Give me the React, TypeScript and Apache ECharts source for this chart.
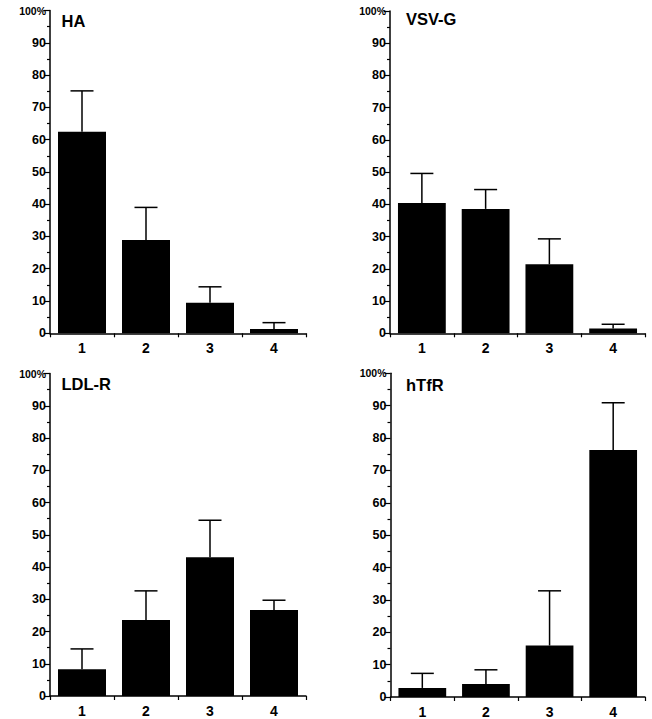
import React, { useEffect, useRef } from "react";
import * as echarts from "echarts";

const categories = ["1", "2", "3", "4"];
const yTicks = [0, 10, 20, 30, 40, 50, 60, 70, 80, 90, 100];

const panelTitles = ["HA", "VSV-G", "LDL-R", "hTfR"];
const haValues = [62.4, 28.9, 9.5, 1.3];
const haErrors = [12.7, 10.1, 4.9, 2.0];
const vsvValues = [40.4, 38.6, 21.4, 1.5];
const vsvErrors = [9.2, 6.0, 7.9, 1.3];
const ldlValues = [8.3, 23.6, 43.0, 26.7];
const ldlErrors = [6.3, 9.0, 11.5, 3.0];
const htfrValues = [2.8, 4.0, 15.9, 76.3];
const htfrErrors = [4.5, 4.4, 16.9, 14.6];

const panelValues = [haValues, vsvValues, ldlValues, htfrValues];
const panelErrors = [haErrors, vsvErrors, ldlErrors, htfrErrors];

const FONT = "Liberation Sans, Arial, Helvetica, sans-serif";

const grids = [
  { left: 50, right: 346, top: 10.5, bottom: 385.7 },
  { left: 390, right: 7, top: 11, bottom: 385.7 },
  { left: 50, right: 346, top: 373.5, bottom: 23 },
  { left: 390.5, right: 7, top: 373.3, bottom: 21.7 },
];

const titlePos = [
  { left: 61.5, top: 12 },
  { left: 406, top: 10.5 },
  { left: 61.5, top: 375.5 },
  { left: 406, top: 376.5 },
];

export default function App() {
  const ref = useRef<HTMLDivElement>(null);
  useEffect(() => {
    document.body.style.margin = "0";
    if (!ref.current) return;
    const chart = echarts.init(ref.current, null, { renderer: "svg" });

    const xAxis: any[] = [];
    const yAxis: any[] = [];
    const series: any[] = [];
    grids.forEach((_, gi) => {
      xAxis.push({
        type: "category",
        gridIndex: gi,
        data: categories,
        boundaryGap: true,
        axisLine: { show: true, lineStyle: { color: "#000", width: 1.5 } },
        axisTick: { show: true, length: 4, lineStyle: { color: "#000", width: 1.2 } },
        axisLabel: {
          color: "#000",
          fontFamily: FONT,
          fontWeight: "bold",
          fontSize: 14,
          margin: 8,
        },
        splitLine: { show: false },
      });
      yAxis.push({
        type: "value",
        gridIndex: gi,
        min: 0,
        max: 100,
        interval: 10,
        axisLine: { show: true, lineStyle: { color: "#000", width: 1.5 } },
        axisTick: { show: true, length: 6, lineStyle: { color: "#000", width: 1.2 } },
        minorTick: { show: true, splitNumber: 2, length: 3, lineStyle: { color: "#000", width: 1.2 } },
        splitLine: { show: false },
        minorSplitLine: { show: false },
        axisLabel: {
          color: "#000",
          fontFamily: FONT,
          fontWeight: "bold",
          fontSize: 12.5,
          margin: 4,
          formatter: (v: number) => (v === 100 ? "{s|100%}" : String(v)),
          rich: {
            s: { fontFamily: FONT, fontWeight: "bold", fontSize: 10.5, color: "#000" },
          },
        },
      });
      const vals = panelValues[gi];
      const errs = panelErrors[gi];
      series.push({
        type: "bar",
        xAxisIndex: gi,
        yAxisIndex: gi,
        data: vals,
        barWidth: "75%",
        itemStyle: { color: "#000" },
        silent: true,
      });
      series.push({
        type: "custom",
        xAxisIndex: gi,
        yAxisIndex: gi,
        encode: { x: 0, y: [1, 2] },
        data: vals.map((v, i) => [i, v, v + errs[i]]),
        renderItem: (params: any, api: any) => {
          const base = api.coord([api.value(0), api.value(1)]);
          const top = api.coord([api.value(0), api.value(2)]);
          const half = 11.5;
          return {
            type: "group",
            children: [
              {
                type: "line",
                shape: { x1: base[0], y1: base[1], x2: top[0], y2: top[1] },
                style: { stroke: "#000", lineWidth: 1.5 },
              },
              {
                type: "line",
                shape: { x1: top[0] - half, y1: top[1], x2: top[0] + half, y2: top[1] },
                style: { stroke: "#000", lineWidth: 1.5 },
              },
            ],
          };
        },
        z: 3,
        silent: true,
      });
    });

    chart.setOption({
      animation: false,
      backgroundColor: "#fff",
      title: panelTitles.map((t, i) => ({
        text: t,
        left: titlePos[i].left,
        top: titlePos[i].top,
        padding: 0,
        textStyle: { fontFamily: FONT, fontWeight: "bold", fontSize: 16.5, color: "#000" },
      })),
      grid: grids.map((g) => ({ ...g, containLabel: false })),
      xAxis,
      yAxis,
      series,
    });
    return () => chart.dispose();
  }, []);
  return <div ref={ref} style={{ width: 652, height: 719 }} />;
}
